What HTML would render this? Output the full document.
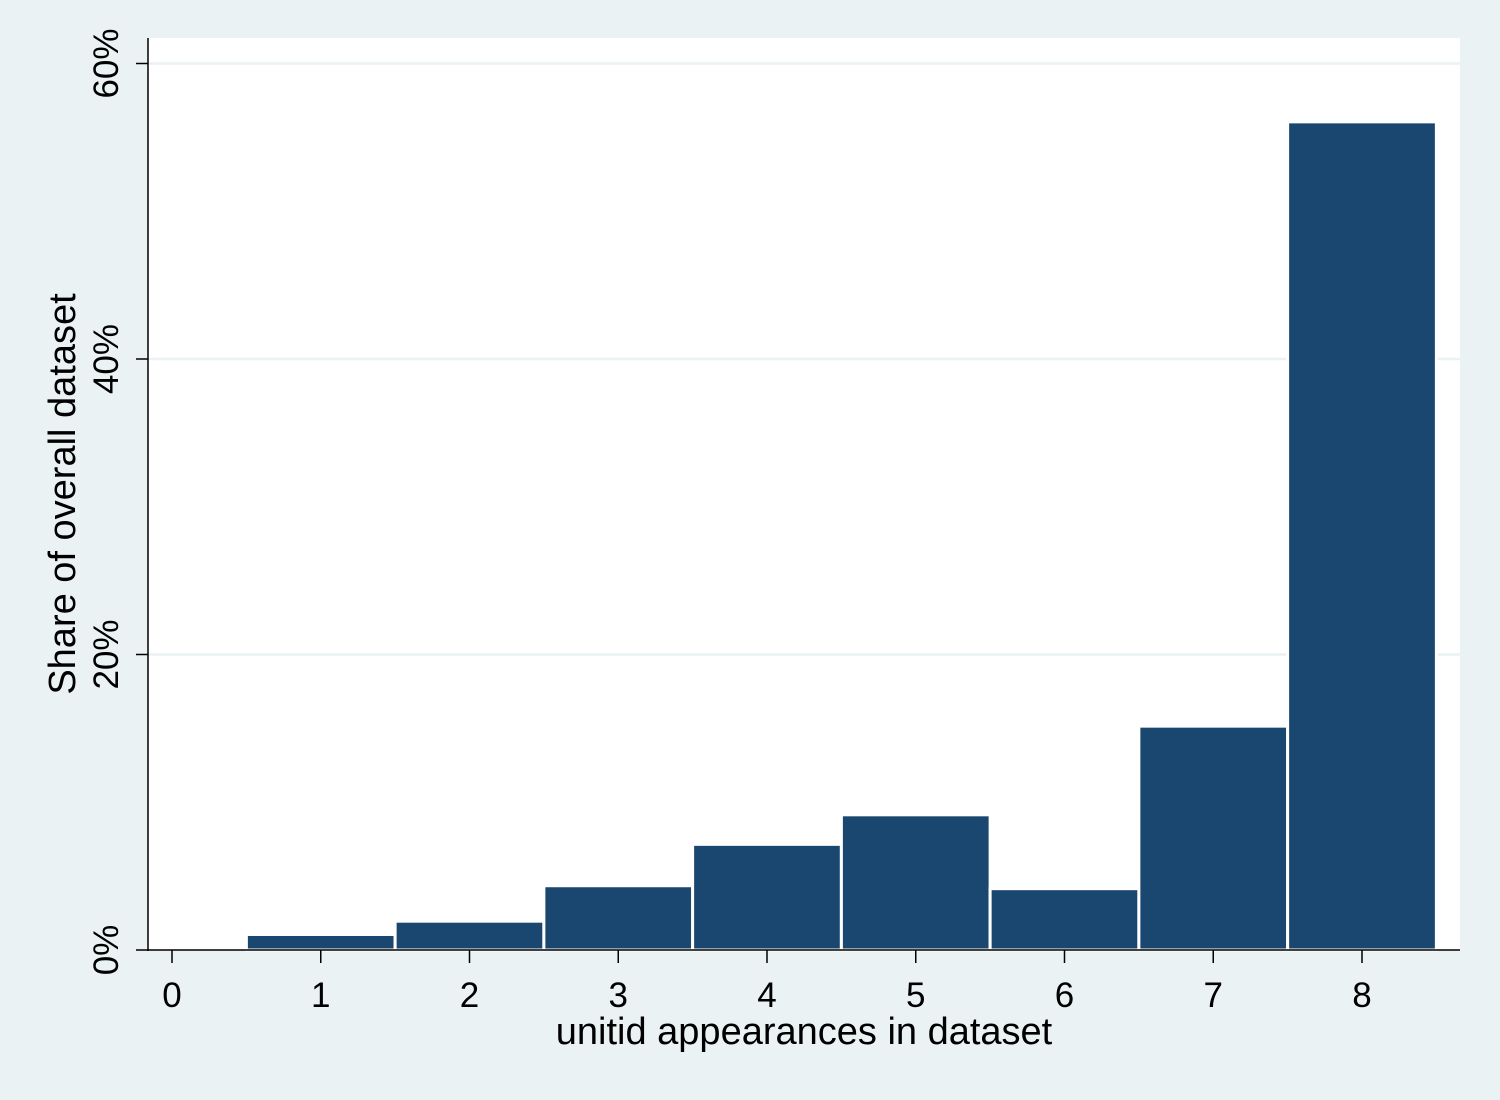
<!DOCTYPE html>
<html><head><meta charset="utf-8"><style>
body{margin:0;background:#eaf2f3;}
svg{display:block;font-family:"Liberation Sans",Arial,sans-serif;}
</style></head><body>
<svg width="1500" height="1100">
<rect x="0" y="0" width="1500" height="1100" fill="#eaf2f3"/>
<rect x="148" y="38" width="1312" height="912" fill="#ffffff"/>
<g id="grid"></g>
<g id="bars"></g>
<g id="axes"></g>
<text x="75" y="494" transform="rotate(-90 75 494)" text-anchor="middle" font-size="38" fill="#000">Share of overall dataset</text>
<text x="804" y="1044" text-anchor="middle" font-size="38" fill="#000">unitid appearances in dataset</text>
</svg>
<script>
const categories=[1,2,3,4,5,6,7,8];
const shares=[1.05,1.95,4.35,7.15,9.15,4.15,15.15,56.05];
const yTicks=[0,20,40,60];
const xTicks=[0,1,2,3,4,5,6,7,8];
const NS="http://www.w3.org/2000/svg";
const X=v=>172+v*148.75;
const Y=v=>950-v*14.775;
const grid=document.getElementById('grid'),bars=document.getElementById('bars'),axes=document.getElementById('axes');
function mk(tag,attrs,parent){const e=document.createElementNS(NS,tag);for(const k in attrs)e.setAttribute(k,attrs[k]);parent.appendChild(e);return e;}
yTicks.forEach(t=>{
 if(t>0){const g=mk('line',{x1:148,x2:1460,y1:Y(t),y2:Y(t),stroke:'#eaf2f3','stroke-width':2.5},grid);
 
 }
 const tk=mk('line',{x1:136,x2:148,y1:Y(t),y2:Y(t),stroke:'#000','stroke-width':1.5},axes);
 
 
 const tx=mk('text',{x:118,y:Y(t),'text-anchor':'middle','font-size':35,transform:`rotate(-90 118 ${Y(t)})`},axes);
 tx.textContent=t+'%';
 
 
});
categories.forEach((c,i)=>{
 const r=mk('rect',{x:X(c-0.5),y:Y(shares[i]),width:148.75,height:Y(0)-Y(shares[i]),fill:'#1a476f',stroke:'#ffffff','stroke-width':3},bars);
 
 
});
const ya=mk('line',{x1:148,x2:148,y1:38,y2:951,stroke:'#000','stroke-width':1.5},axes);


const xa=mk('line',{x1:147,x2:1460,y1:950,y2:950,stroke:'#000','stroke-width':1.5},axes);


xTicks.forEach(t=>{
 const tk=mk('line',{x1:X(t),x2:X(t),y1:950,y2:963,stroke:'#000','stroke-width':1.5},axes);
 
 
 const tx=mk('text',{x:X(t),y:1007,'text-anchor':'middle','font-size':35},axes);
 tx.textContent=t;
 
 
});
</script>
</body></html>
